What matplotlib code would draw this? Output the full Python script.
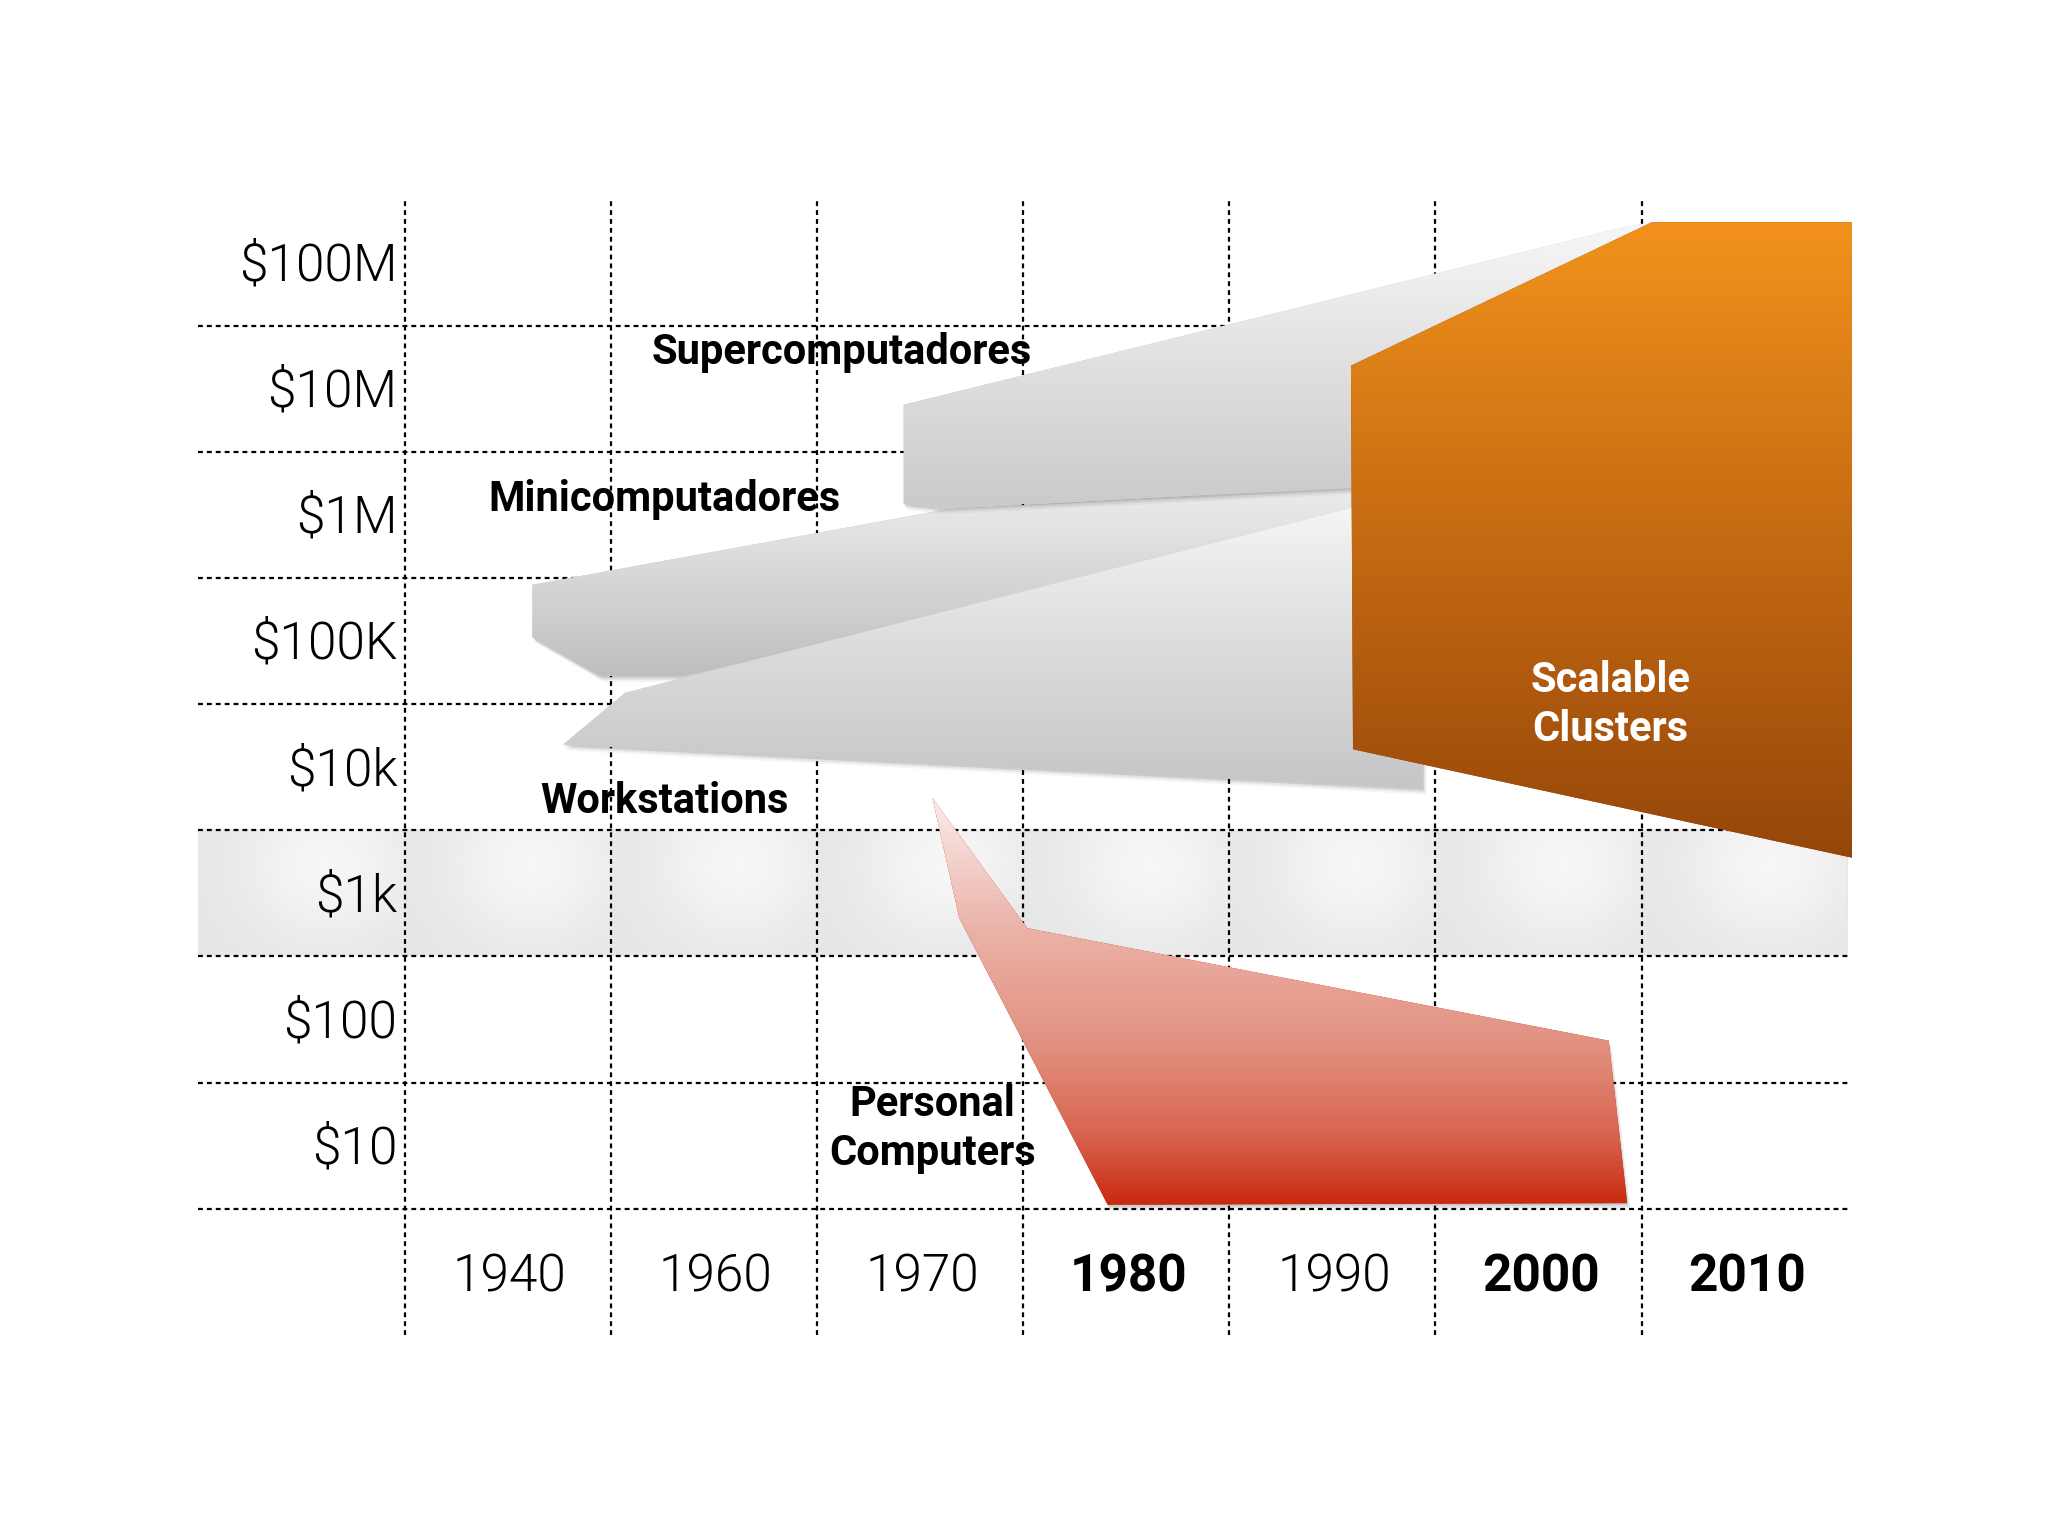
import numpy as np
import matplotlib
matplotlib.use("Agg")
import matplotlib.pyplot as plt
from matplotlib.patches import Polygon
from matplotlib.colors import LinearSegmentedColormap
import matplotlib.patheffects as pe

# eras along the x axis (one column each, column 0 holds the cost labels)
years = ["1940", "1960", "1970", "1980", "1990", "2000", "2010"]
bold_years = {"1980", "2000", "2010"}
cost_labels = ["$100M", "$10M", "$1M", "$100K", "$10k", "$1k", "$100", "$10"]
cost_values = [1e8, 1e7, 1e6, 1e5, 1e4, 1e3, 1e2, 1e1]

# outlines of each computer class: era position (column) and cost in dollars
super_x = [3.42, 6.92, 7.05, 6.00, 5.59, 3.59, 3.42]
super_cost = [7.5e6, 1.93e8, 2.1e8, 4.7e6, 1.64e6, 1.14e6, 1.23e6]

mini_x = [1.62, 3.63, 5.59, 5.59, 2.35, 1.95, 1.62]
mini_cost = [2.8e5, 1.11e6, 1.66e6, 8.8e5, 5.3e4, 5.3e4, 1.08e5]

ws_x = [1.77, 2.07, 5.59, 5.94, 5.94]
ws_cost = [1.52e4, 3.9e4, 1.14e6, 1.14e6, 6.8e3]

cluster_x = [5.59, 7.05, 8.02, 8.02, 5.60]
cluster_cost = [1.53e7, 2.1e8, 2.1e8, 1.92e3, 1.39e4]

pc_x = [3.56, 4.02, 6.84, 6.93, 4.41, 3.69]
pc_cost = [5.7e3, 5.3e2, 68, 3.5, 3.4, 6.4e2]

labels = [
    ("Supercomputadores", 3.12, 1.95e7, "black"),
    ("Minicomputadores", 2.26, 1.33e6, "black"),
    ("Workstations", 2.26, 5.4e3, "black"),
    ("Personal\nComputers", 3.56, 13.5, "black"),
    ("Scalable\nClusters", 6.85, 3.1e4, "white"),
]

SOFT_SHADOW = [
    pe.SimplePatchShadow(offset=(0.5, -1.5), shadow_rgbFace="k", alpha=0.10),
    pe.SimplePatchShadow(offset=(1.5, -3), shadow_rgbFace="k", alpha=0.07),
    pe.SimplePatchShadow(offset=(2.5, -4.5), shadow_rgbFace="k", alpha=0.04),
    pe.Normal(),
]


def grad_poly(ax, xs, cost, stops, z, shadow=True):
    ys = np.log10(cost)
    poly = Polygon(np.column_stack([xs, ys]), closed=True, facecolor=stops[0][1],
                   edgecolor="none", zorder=z)
    if shadow:
        poly.set_path_effects(SOFT_SHADOW)
    ax.add_patch(poly)
    cmap = LinearSegmentedColormap.from_list("g", stops)
    grad = np.linspace(0, 1, 256)[:, None]
    im = ax.imshow(grad, cmap=cmap, aspect="auto", origin="lower", interpolation="bilinear",
                   extent=(min(xs), max(xs), min(ys), max(ys)), zorder=z + 0.1)
    im.set_clip_path(poly)


fig = plt.figure(figsize=(20.48, 15.36), dpi=100)
ax = fig.add_axes([0.0969, 0.1310, 0.8104, 0.7389])
ax.axis("off")

# light band behind the $1k row
u = np.linspace(0, 8, 1600)
v = np.linspace(0, 1, 120)
U, V = np.meshgrid(u, v)
cu = U - np.floor(U)
band = 0.90 + 0.065 * np.exp(-(((cu - 0.62) / 0.40) ** 2 + ((V - 0.72) / 0.60) ** 2))
ax.imshow(band, cmap="gray", vmin=0, vmax=1, aspect="auto", origin="lower",
          extent=(0, 8, 2.5, 3.5), zorder=0.5, interpolation="bilinear")

# dotted grid
ls = (0, (2.2, 1.8))
ax.hlines(np.arange(0.5, 8, 1.0), 0, 8, colors="black", linewidth=1.6, linestyles=[ls], zorder=1)
ax.vlines(np.arange(1, 8), -0.5, 8.5, colors="black", linewidth=1.6, linestyles=[ls], zorder=1)

# shapes
grad_poly(ax, mini_x, mini_cost, [(0, "#bebebe"), (0.5, "#d6d6d6"), (1, "#ececec")], 2)
grad_poly(ax, ws_x, ws_cost, [(0, "#c6c6c8"), (0.5, "#dcdcdc"), (1, "#f5f5f5")], 3)
grad_poly(ax, super_x, super_cost, [(0, "#cacaca"), (0.5, "#e0e0e0"), (1, "#f7f7f7")], 4)
grad_poly(ax, pc_x, pc_cost, [(0, "#c8290f"), (0.17, "#d8644f"), (0.39, "#e2907f"),
                              (0.68, "#ebb3a8"), (1, "#faeceb")], 3)
grad_poly(ax, cluster_x, cluster_cost, [(0, "#96460a"), (0.5, "#c46a12"), (1, "#f2921c")], 5,
          shadow=False)

# axis text
for lab, c in zip(cost_labels, cost_values):
    ax.text(0.965, np.log10(c) - 0.03, lab, ha="right", va="center", fontsize=37,
            family="Roboto", fontweight=300, zorder=10)
for i, yr in enumerate(years):
    ax.text(1.51 + i, -0.045, yr, ha="center", va="center", fontsize=37, family="Roboto",
            fontweight="bold" if yr in bold_years else 300, zorder=10)

for txt, x, c, col in labels:
    ax.text(x, np.log10(c), txt, ha="center", va="center", fontsize=30, family="Roboto",
            fontweight="bold", color=col, linespacing=1.25, zorder=10)

ax.set_xlim(0, 8.05)
ax.set_ylim(-0.5, 8.5)

fig.savefig("out.png", dpi=100, facecolor="white")
